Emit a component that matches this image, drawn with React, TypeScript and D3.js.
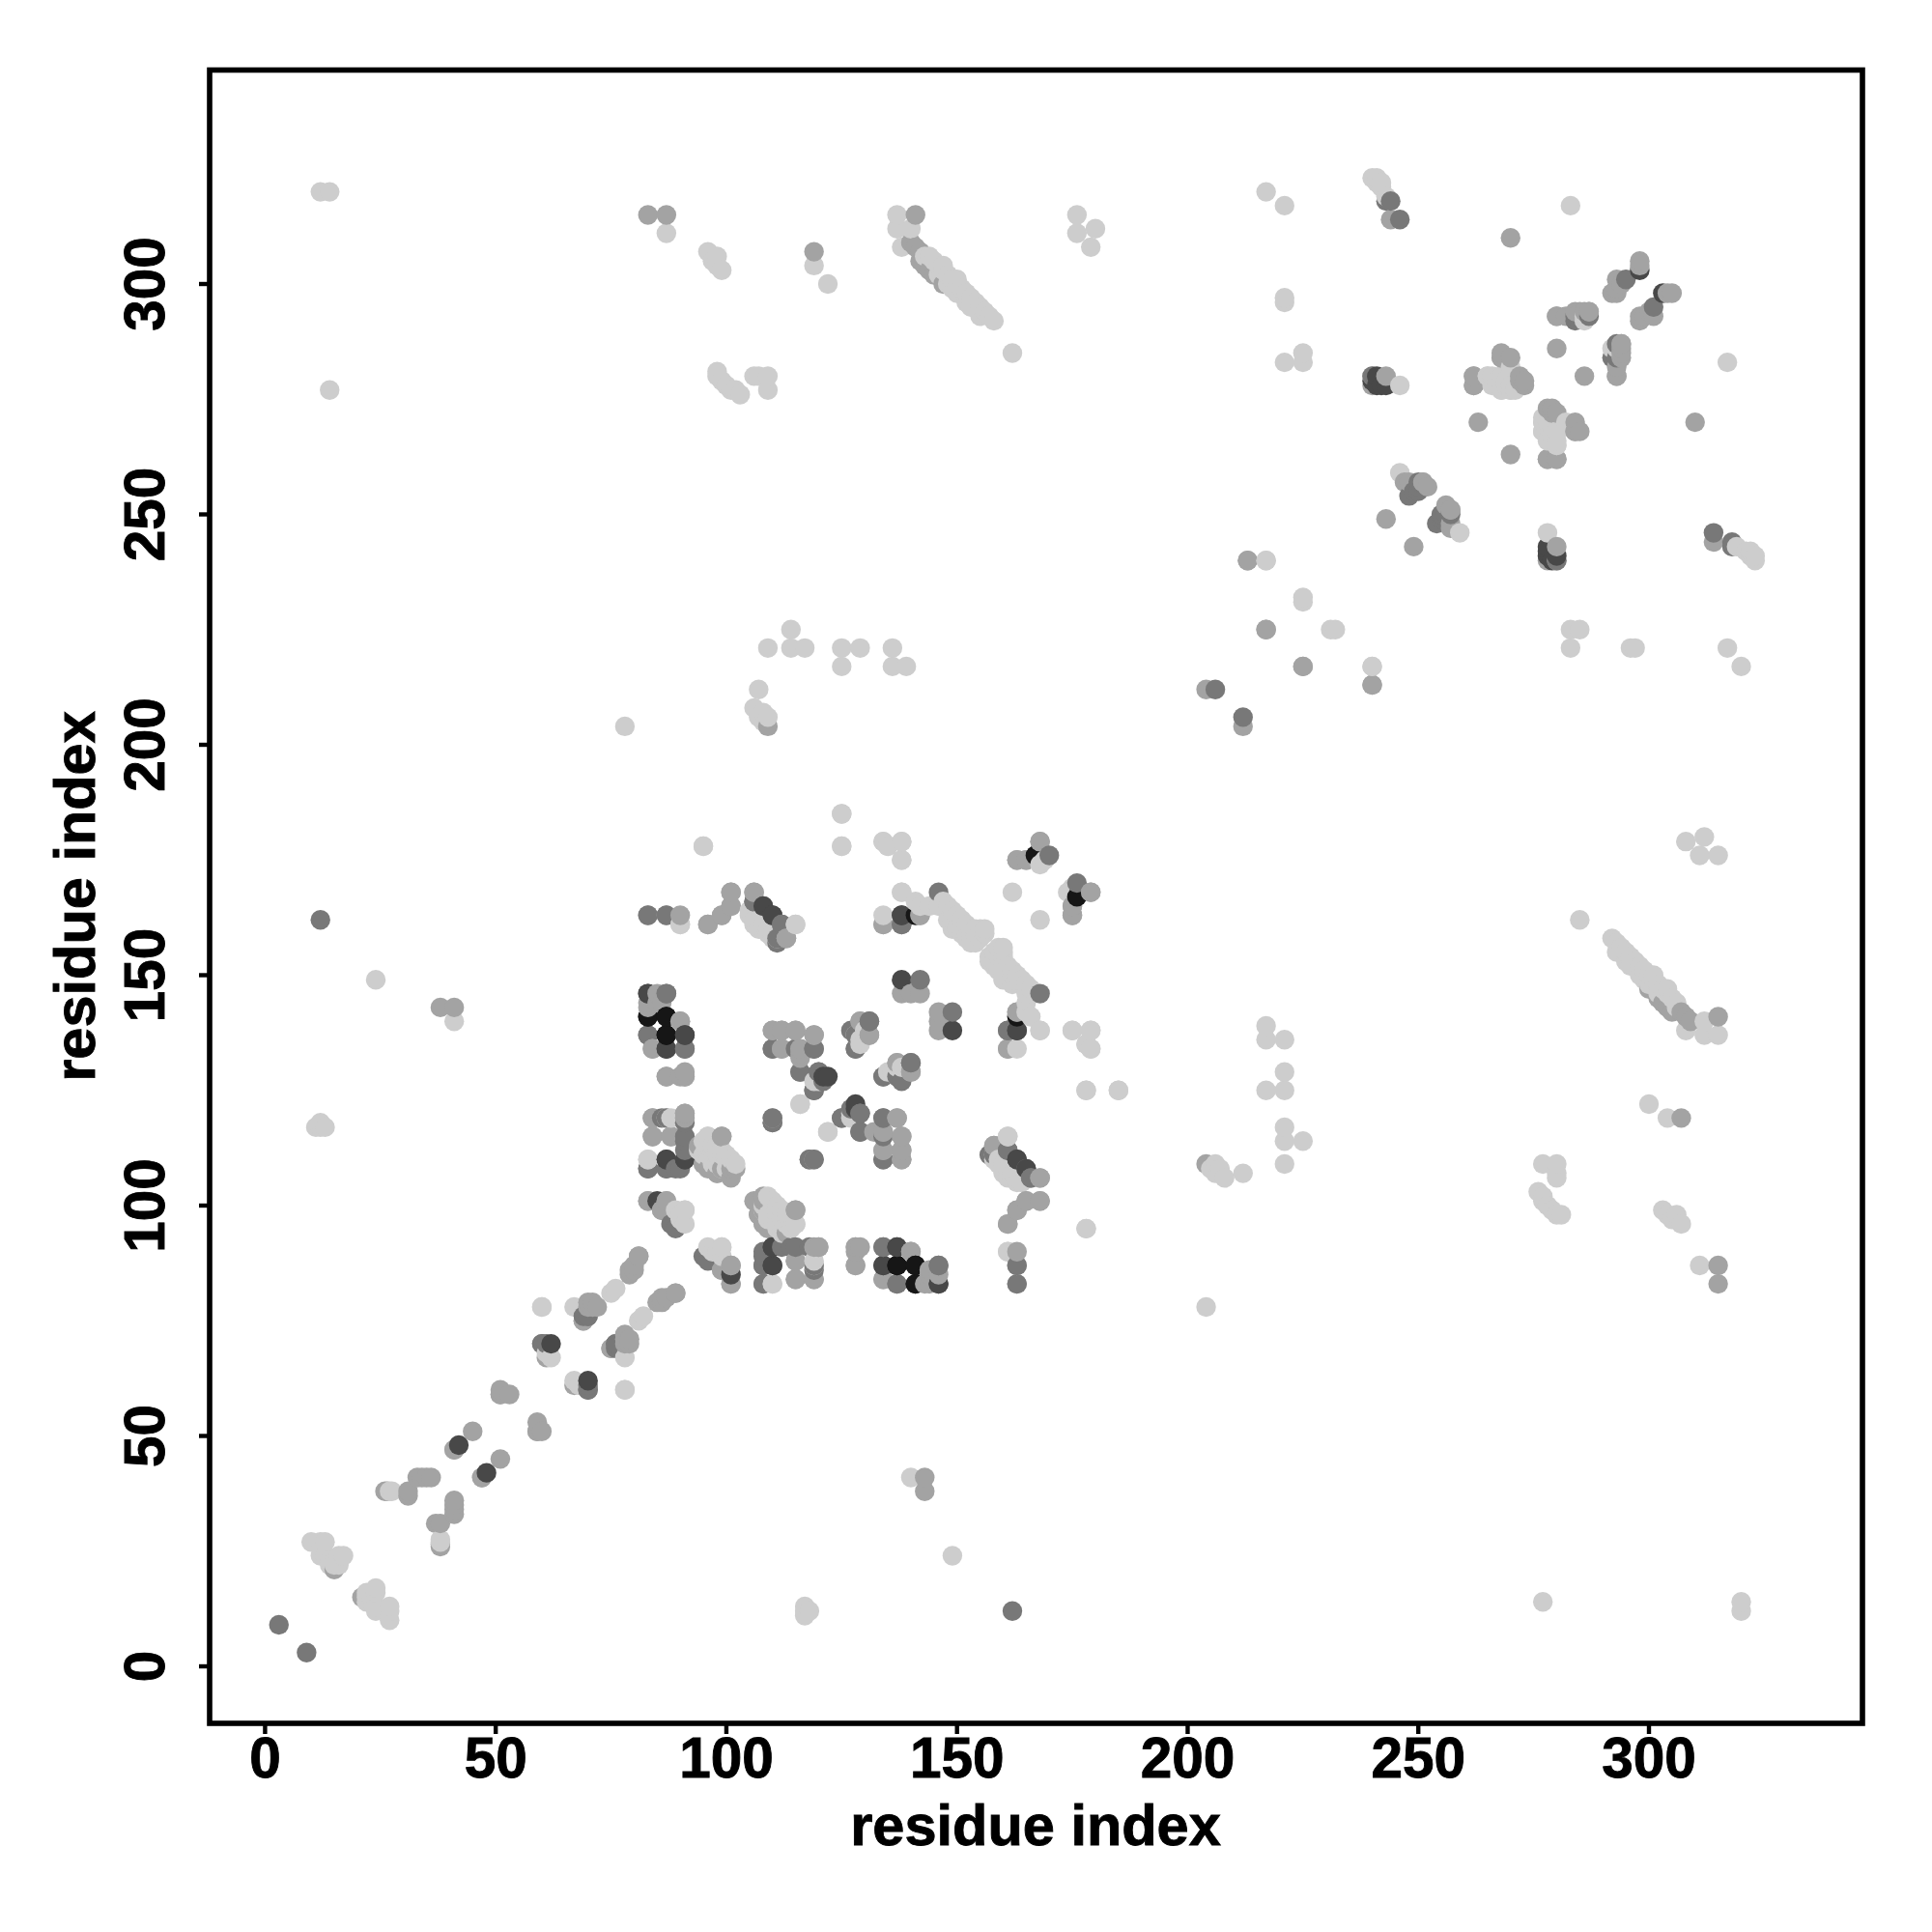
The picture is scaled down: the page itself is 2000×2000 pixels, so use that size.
import React from "react";
import * as d3 from "d3";

// Contacts as [i, j] residue pairs, i < j; the map shows each on both sides of the diagonal.
const lightContacts: [number, number][] = [
  [10,27],[12,27],[13,27],[12,24],[13,24],[14,23],[15,23],[15,22],[16,22],[16,24],[17,24],[14,22],
  [27,38],[38,27.5],[41,140],[24,149],[12,117],[11,117],[13,117],[12,118],[14,277],[12,320],[14,320],
  [61,68],[67,78],[60,78],[67,62],[75,81],[76,82],[78,60],[90,98],[91,99],[90,97],[96,91],[99,91],[99,89],[98,90],
  [83,110],[88,119],[90,161],[95,178],[125,185],[125,178],[134,179],[138,179],[135,178],[138,175],
  [96,115],[98,111],[100,111],[102,109],[95,111],[97,109],[97,113],[96,112],[99,112],[98,113],[101,110],[100,108],
  [110,100],[108,99],[109,98],[111,96],[112,97],[113,98],[115,96],[112,94],[114,95],[110,97],[111,99],[113,96],
  [110,83],[119,87],[105,164],[107,162],[109,160],[110,159],[108,161],[111,158],[115,161],
  [116,122],[119,127],[122,116],[127,120],[130,137],[129,136],[137,128],[135,129],[130,138],
  [134,163],[142,165],[141,166],[138,168],[144,165],[146,165],
  [147,166],[148,165],[149,164],[150,163],[151,162],[152,161],[153,160],[154,159],[155,160],[150,160],[152,158],[153,157],[150,162],[148,162],[149,160],[151,159],[151,160],[149,162],[152,159],[154,157],[155,158],[156,159],[153,158],[154,160],[156,160],
  [162,168],[168,138],[168,174],[169,175],[175,138],[179,138],[178,135],[179,134],[178,125],[185,125],[161,90],[178,95],[161,115],
  [158,110],[160,108],[161,106],[163,105],[159,109],[160,107],[162,106],
  [78,204],[96,307],[97,305],[98,304],[99,303],[98,306],[87,311],[119,304],[122,300],
  [98,281],[98,280],[99,279],[100,278],[102,277],[103,276],[101,277],[109,277],[106,280],[109,280],[107,280],
  [107,212],[106,208],[108,207],[109,206],[107,206],[108,205],
  [109,221],[114,225],[114,221],[117,221],[125,221],[125,217],[129,221],[136,221],[136,217],[139,217],
  [137,315],[137,312],[140,312],[138,308],[143,306],[145,305],[146,304],[147,303],[148,302],[149,301],[150,300],[151,299],[152,298],[153,297],[154,296],[155,295],[156,294],[157,293],[158,292],[148,300],[150,298],[153,295],[146,302],[149,299],[152,296],[155,293],[144,306],[147,304],[150,301],
  [162,285],[176,311],[180,312],[179,308],[176,315],
  [217,320],[221,317],[221,296],[221,297],[221,283],[225,283],[225,285],[225,231],[225,232],[217,240],[240,217],
  [240,323],[241,322],[242,321],[241,323],[242,322],[243,319],[246,278],[246,259],[283,317],
  [265,280],[266,280],[268,280],[271,277],[268,277],[270,278],[267,279],[269,278],[270,277],[277,270],[277,268],[279,267],[280,265],[282,270],[278,266],[279,269],[286,292],[293,286],[280,268],
];

const midContacts: [number, number][] = [
  [15,21],[26,38],[31,37],[31,38],[34,41],[33,41],[36,41],[35,41],[38,26.5],[45,51],[41,47],[47,41],[51,59],[53,59],[51,60],
  [59,51],[61,67],[69,75],[71,78],[71,79],[72,78],[70,78],[75,69],[79,70],[38,143],[41,143],[81,89],[79,86],[80,86],[85,79],[87,80],[89,81],
  [83,101],[87,101],[86,99],[84,119],[91,120],[84,115],[88,115],[83,143],[85,146],[86,144],[84,134],[90,140],[87,128],[90,128],[91,128],
  [94,113],[99,115],[96,108],[98,107],[99,108],[102,108],[90,163],[83,163],[87,163],[96,161],[99,163],[101,165],[101,168],[106,168],
  [99,86],[101,87],[101,83],[115,88],[115,84],[119,91],[120,91],[119,84],[128,91],[129,91],[128,87],[140,90],[144,85],[144,83],[134,84],
  [106,101],[108,101],[107,98],[109,95],[115,99],[113,158],[116,134],[116,132],[110,138],[112,138],[115,138],[119,137],[112,134],[119,110],
  [129,140],[131,137],[137,131],[140,129],[133,116],[134,116],[137,119],[138,115],[134,112],[138,112],[138,110],[134,161],[142,163],
  [138,146],[140,146],[142,146],
  [158,113],[163,142],[161,134],[163,99],[165,101],[168,101],[168,106],[161,96],[163,175],[165,175],[168,179],[175,165],[175,163],[179,168],
  [83,315],[87,315],[109,204],[119,307],[141,315],[141,308],[140,309],[142,307],[142,305],[143,304],[144,303],[145,302],[147,300],
  [204,212],[213,240],[217,225],[225,217],[240,213],[240,280],[240,278],[243,280],[244,314],[243,249],[247,257],[248,257],[251,257],
  [257,251],[252,256],[270,310],[263,270],[262,280],[262,278],[278,262],[280,262],[268,284],[270,284],[272,279],[273,278],[279,273],[280,272],[284,268],[285,268],
  [280,293],[282,293],[284,294],[286,294],[287,294],[280,286],[294,285],[294,287],[293,280],[292,298],[293,299],[293,301],[298,304],[298,305],[294,300],[293,298],
];

const greyContacts: [number, number][] = [
  [3,9],[12,162],[60,70],[61,70],[69,76],[70,76],[70,60],[76,70],
  [87,146],[83,137],[91,134],[87,119],[91,118],[91,114],[91,112],[83,108],[87,108],[90,108],[88,96],[95,89],[119,86],
  [106,166],[108,165],[112,161],[111,158],[108,89],[108,87],[108,83],[115,91],[134,91],[146,87],[137,83],
  [110,134],[115,134],[119,134],[116,129],[120,129],[119,125],[110,119],[110,118],[118,110],[131,140],[128,137],[128,134],[140,131],[134,128],[138,127],
  [129,120],[125,119],[127,121],[129,116],[134,119],[134,110],[138,161],[142,149],[146,168],[163,87],[163,83],[161,138],[157,111],[161,112],[166,106],
  [170,176],[206,212],[246,314],[244,318],[243,318],[250,257],[248,254],[249,255],[250,255],[250,256],[284,292],[293,284],[295,301],[280,240],[287,293],
];

const darkContacts: [number, number][] = [
  [42,48],[62,70],[83,146],[91,137],[87,134],[87,110],[91,110],[101,85],[110,91],[110,87],[110,163],[122,128],[121,128],
  [134,87],[137,91],[146,83],[138,163],[138,149],[163,110],[165,108],[163,138],[241,280],[242,278],[243,278],[303,298],[240,279],[241,278],
];

const blackContacts: [number, number][] = [
  [83,141],[87,141],[87,137],[141,87],[137,87],[141,83],[141,163],[167,176],
];

const shades: [string, [number, number][]][] = [
  ["#cdcdcd", lightContacts],
  ["#a3a3a3", midContacts],
  ["#787878", greyContacts],
  ["#484848", darkContacts],
  ["#161616", blackContacts],
];

const tickValues = [0, 50, 100, 150, 200, 250, 300];
const axisTitle = "residue index";
const font = "'Liberation Sans', Arial, sans-serif";

export default function App() {
  const x = d3.scaleLinear().domain([0, 300]).range([274.4, 1707]);
  const y = d3.scaleLinear().domain([0, 300]).range([1725, 294]);
  const frame = { l: 217, r: 1928, t: 72.5, b: 1784 };

  const points = shades
    .flatMap(([fill, pairs]) =>
      pairs.flatMap(([i, j]) => [
        { a: i, b: j, fill },
        { a: j, b: i, fill },
      ])
    )
    .sort((p, q) => d3.ascending(p.a, q.a) || d3.ascending(p.b, q.b));

  const heavy = { stroke: "#000", strokeWidth: 0.9 };

  return (
    <svg
      width={2000}
      height={2000}
      style={{ position: "absolute", left: 0, top: 0, background: "#fff" }}
      fontFamily={font}
      fontWeight="bold"
    >
      <g>
        {points.map((p, k) => (
          <circle key={k} cx={x(p.a)} cy={y(p.b)} r={10.2} fill={p.fill} />
        ))}
      </g>
      <rect
        x={frame.l}
        y={frame.t}
        width={frame.r - frame.l}
        height={frame.b - frame.t}
        fill="none"
        stroke="#000"
        strokeWidth={5.6}
      />
      {tickValues.map((t) => (
        <g key={`x${t}`}>
          <line x1={x(t)} x2={x(t)} y1={frame.b} y2={frame.b + 11} stroke="#000" strokeWidth={4.4} />
          <text x={x(t)} y={1840} textAnchor="middle" fontSize={58.5} {...heavy}>
            {t}
          </text>
        </g>
      ))}
      {tickValues.map((t) => (
        <g key={`y${t}`}>
          <line x1={frame.l} x2={frame.l - 11} y1={y(t)} y2={y(t)} stroke="#000" strokeWidth={4.4} />
          <text
            transform={`translate(170,${y(t)}) rotate(-90)`}
            textAnchor="middle"
            fontSize={58.5}
            {...heavy}
          >
            {t}
          </text>
        </g>
      ))}
      <text x={1072} y={1910} textAnchor="middle" fontSize={59.5} {...heavy}>
        {axisTitle}
      </text>
      <text transform="translate(98,928) rotate(-90)" textAnchor="middle" fontSize={59.5} {...heavy}>
        {axisTitle}
      </text>
    </svg>
  );
}
